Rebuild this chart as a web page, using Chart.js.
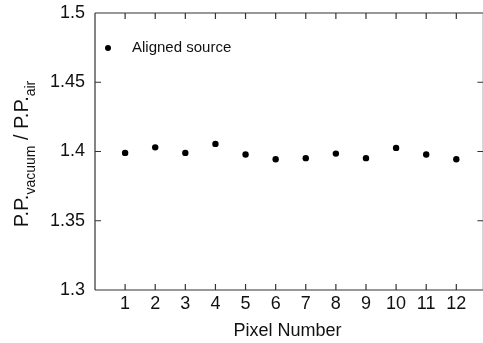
<!DOCTYPE html>
<html><head><meta charset="utf-8">
<script src="https://cdn.jsdelivr.net/npm/chart.js@4.4.0/dist/chart.umd.min.js"></script>
<style>html,body{margin:0;padding:0;background:#fff;overflow:hidden}</style>
</head><body>
<canvas id="c" width="483" height="343"></canvas>
<script>
const pixelNumbers = [1, 2, 3, 4, 5, 6, 7, 8, 9, 10, 11, 12];
const ppRatio = [1.399, 1.403, 1.399, 1.4055, 1.3978, 1.3944, 1.3952, 1.3985, 1.3952, 1.4026, 1.3978, 1.3944];
const xTickValues = [1, 2, 3, 4, 5, 6, 7, 8, 9, 10, 11, 12];
const yTickValues = [1.3, 1.35, 1.4, 1.45, 1.5];
const seriesLabel = 'Aligned source';
const xTitle = 'Pixel Number';
const yTitleParts = [['P.P.', false], ['vacuum', true], [' / P.P.', false], ['air', true]];

const FONT = '"Liberation Sans", Arial, sans-serif';
const INK = '#111';
const LINE = '#333';

const framePlugin = {
  id: 'frame',
  afterDraw(chart) {
    const ctx = chart.ctx;
    const xs = chart.scales.x, ys = chart.scales.y;
    const L = chart.chartArea.left, T = chart.chartArea.top, B = chart.chartArea.bottom;
    const R = xs.getPixelForValue(12.9);
    ctx.save();
    ctx.strokeStyle = LINE;
    ctx.lineWidth = 1.2;
    ctx.beginPath();
    ctx.moveTo(L, T); ctx.lineTo(L, B);
    ctx.moveTo(L, T); ctx.lineTo(R, T);
    ctx.moveTo(L, B); ctx.lineTo(R, B);
    ctx.moveTo(R, T); ctx.lineTo(R, B);
    xTickValues.forEach(v => {
      const px = xs.getPixelForValue(v);
      ctx.moveTo(px, B); ctx.lineTo(px, B - 6);
      ctx.moveTo(px, T); ctx.lineTo(px, T + 6);
    });
    yTickValues.forEach(v => {
      const py = ys.getPixelForValue(v);
      ctx.moveTo(L, py); ctx.lineTo(L + 6, py);
      ctx.moveTo(R, py); ctx.lineTo(R - 6, py);
    });
    ctx.stroke();

    // legend
    ctx.fillStyle = '#000';
    ctx.beginPath();
    ctx.arc(L + 13, T + 35, 3, 0, Math.PI * 2);
    ctx.fill();
    ctx.fillStyle = INK;
    ctx.font = '15px ' + FONT;
    ctx.textBaseline = 'middle';
    ctx.textAlign = 'left';
    ctx.fillText(chart.data.datasets[0].label, L + 37, T + 35);

    // y title with subscripts
    const mainF = '20px ' + FONT, subF = '14px ' + FONT;
    let total = 0;
    yTitleParts.forEach(([t, sub]) => { ctx.font = sub ? subF : mainF; total += ctx.measureText(t).width; });
    ctx.translate(28, 154);
    ctx.rotate(-Math.PI / 2);
    ctx.textBaseline = 'alphabetic';
    let x = -total / 2;
    yTitleParts.forEach(([t, sub]) => {
      ctx.font = sub ? subF : mainF;
      ctx.fillText(t, x, sub ? 7 : 0);
      x += ctx.measureText(t).width;
    });
    ctx.restore();
  }
};

new Chart(document.getElementById('c'), {
  type: 'scatter',
  data: {
    datasets: [{
      label: seriesLabel,
      data: pixelNumbers.map((p, i) => ({ x: p, y: ppRatio[i] })),
      pointRadius: 3.2,
      pointHoverRadius: 3.2,
      backgroundColor: '#000',
      borderColor: '#000',
      borderWidth: 0
    }]
  },
  options: {
    responsive: false,
    animation: false,
    devicePixelRatio: 1,
    layout: { padding: { top: 13, left: 0, right: 0, bottom: 0 } },
    plugins: { legend: { display: false }, tooltip: { enabled: false } },
    scales: {
      x: {
        type: 'linear', min: 0, max: 12.78,
        afterBuildTicks: s => { s.ticks = xTickValues.map(v => ({ value: v })); },
        afterFit: s => { s.height = 53; s.paddingLeft = 0; s.paddingRight = 0; },
        grid: { display: false, drawTicks: false },
        border: { display: false },
        ticks: { autoSkip: false, maxRotation: 0, padding: 3, color: INK, font: { family: FONT, size: 18 }, callback: v => String(v) },
        title: { display: true, text: xTitle, color: INK, font: { family: FONT, size: 18 }, padding: { top: 0, bottom: 1 } }
      },
      y: {
        type: 'linear', min: 1.3, max: 1.5,
        afterBuildTicks: s => { s.ticks = yTickValues.map(v => ({ value: v })); },
        afterFit: s => { s.width = 95; s.paddingTop = 0; s.paddingBottom = 0; },
        grid: { display: false, drawTicks: false },
        border: { display: false },
        ticks: { padding: 10, color: INK, font: { family: FONT, size: 18 }, callback: v => String(+(+v).toFixed(2)) }
      }
    }
  },
  plugins: [framePlugin]
});
</script>
</body></html>
